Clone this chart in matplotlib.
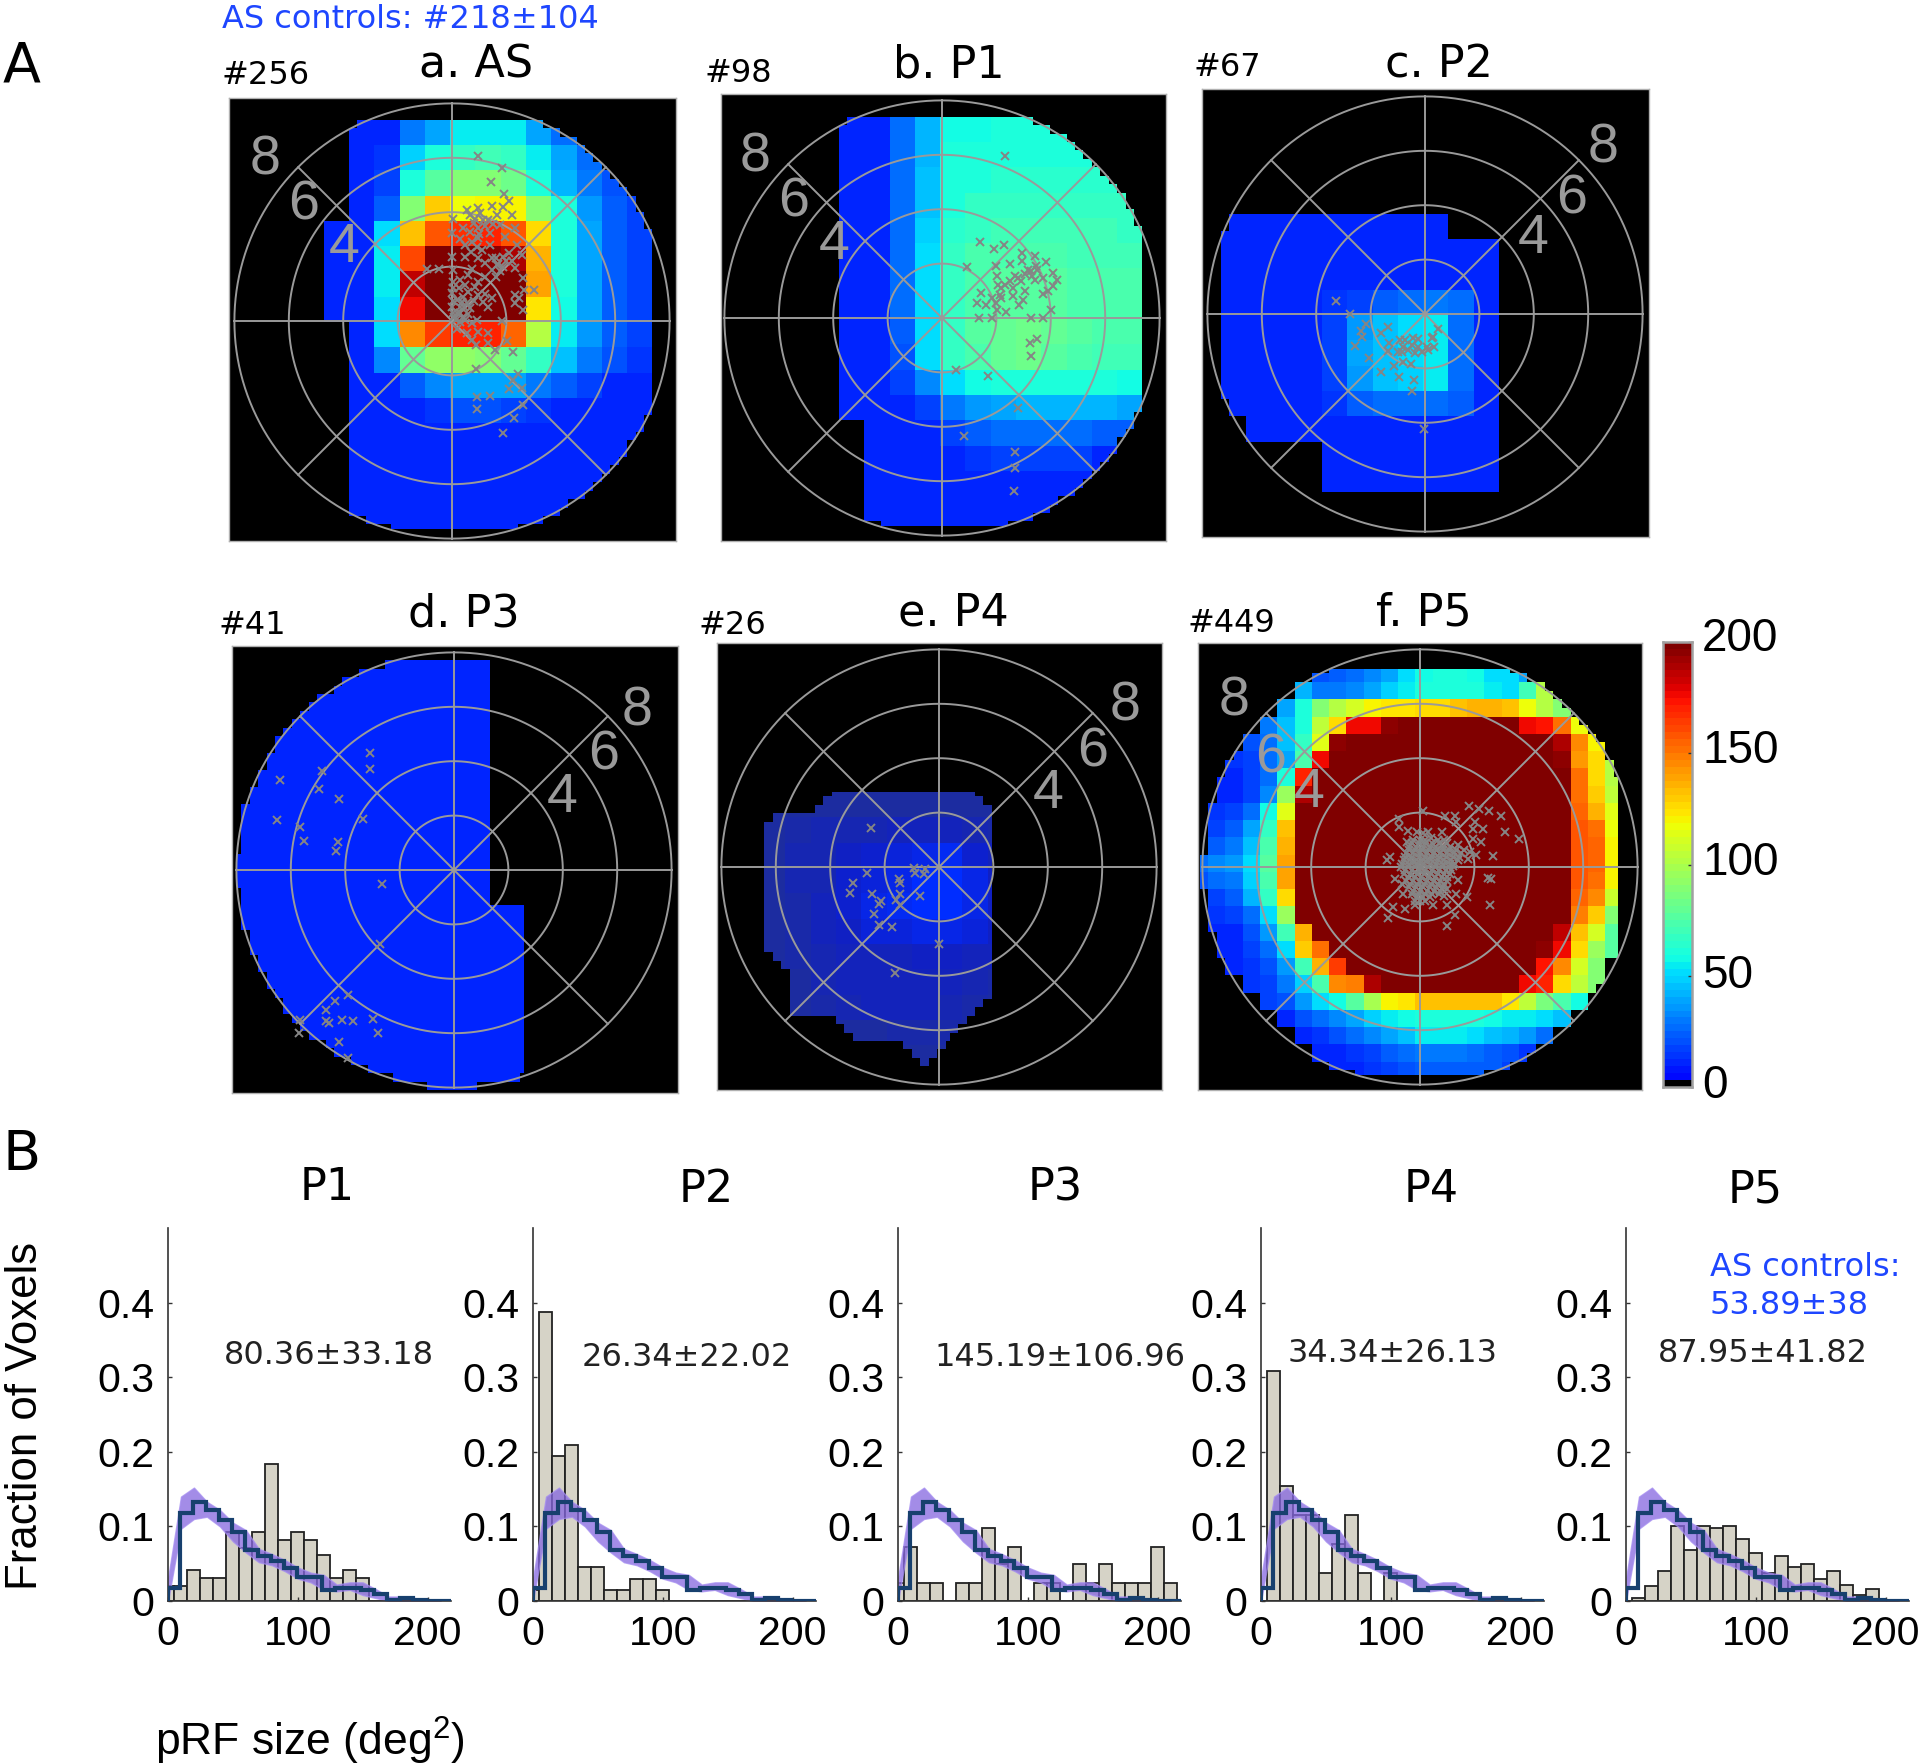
import numpy as np
import matplotlib
matplotlib.use('Agg')
import matplotlib.pyplot as plt
from matplotlib.colors import ListedColormap, LinearSegmentedColormap, Normalize

plt.rcParams['mathtext.default'] = 'regular'
plt.rcParams['font.family'] = ['DejaVu Sans']

W, H = 1920, 1764
HELV = 'Liberation Sans'
GRID_GREY = '#9a9a9a'
CROSS_GREY = '#858585'
BLUE_TXT = '#1e46ff'

# -- coverage maps, cell values read off the colour scale (0 = no coverage)
# rows run top to bottom, 0.93 deg cells

map_a = [
    [0] * 18,
    [0, 0, 0, 0, 0, 10, 10, 30, 40, 55, 55, 55, 40, 28, 20, 0, 0, 0],
    [0, 0, 0, 0, 0, 10, 14, 48, 62, 68, 70, 68, 55, 38, 28, 18, 0, 0],
    [0, 0, 0, 0, 0, 10, 18, 62, 78, 88, 90, 82, 62, 42, 30, 20, 14, 0],
    [0, 0, 0, 0, 0, 10, 22, 88, 130, 118, 120, 120, 90, 62, 36, 24, 16, 0],
    [0, 0, 0, 0, 10, 10, 50, 133, 158, 168, 170, 158, 125, 62, 38, 24, 16, 0],
    [0, 0, 0, 0, 10, 10, 55, 160, 200, 200, 195, 190, 135, 62, 38, 24, 16, 0],
    [0, 0, 0, 0, 10, 10, 55, 185, 200, 200, 200, 200, 140, 60, 38, 24, 16, 0],
    [0, 0, 0, 0, 10, 10, 52, 175, 200, 200, 200, 200, 122, 58, 38, 24, 16, 0],
    [0, 0, 0, 0, 0, 10, 50, 145, 165, 170, 170, 155, 100, 55, 36, 22, 16, 0],
    [0, 0, 0, 0, 0, 10, 34, 80, 92, 92, 88, 80, 66, 45, 30, 20, 14, 0],
    [0, 0, 0, 0, 0, 10, 10, 24, 32, 38, 40, 38, 30, 22, 16, 12, 10, 0],
    [0, 0, 0, 0, 0, 10, 10, 12, 15, 20, 20, 18, 15, 12, 10, 10, 10, 0],
    [0, 0, 0, 0, 0, 10, 10, 10, 11, 11, 11, 11, 11, 10, 10, 10, 10, 0],
    [0, 0, 0, 0, 0, 10, 10, 10, 10, 10, 11, 11, 10, 10, 10, 10, 10, 0],
    [0, 0, 0, 0, 0, 10, 10, 10, 10, 10, 10, 10, 10, 10, 10, 10, 10, 0],
    [0, 0, 0, 0, 0, 10, 10, 10, 10, 10, 10, 10, 10, 10, 10, 10, 10, 0],
    [0, 0, 0, 0, 0, 10, 10, 10, 10, 10, 10, 10, 10, 10, 10, 0, 0, 0],
]

map_b = [
    [0] * 18,
    [0, 0, 0, 0, 0, 10, 12, 25, 42, 58, 58, 60, 60, 62, 62, 0, 0, 0],
    [0, 0, 0, 0, 0, 10, 12, 25, 42, 60, 62, 62, 62, 62, 62, 62, 0, 0],
    [0, 0, 0, 0, 0, 10, 12, 25, 44, 62, 62, 64, 64, 64, 64, 64, 64, 0],
    [0, 0, 0, 0, 0, 10, 12, 25, 46, 62, 66, 68, 68, 68, 68, 66, 66, 0],
    [0, 0, 0, 0, 0, 10, 12, 25, 48, 64, 68, 70, 70, 70, 70, 70, 68, 0],
    [0, 0, 0, 0, 0, 10, 12, 26, 50, 66, 72, 74, 74, 72, 70, 70, 70, 0],
    [0, 0, 0, 0, 0, 10, 12, 26, 52, 68, 72, 75, 76, 76, 74, 72, 72, 0],
    [0, 0, 0, 0, 0, 10, 12, 26, 52, 68, 74, 76, 76, 76, 74, 72, 72, 0],
    [0, 0, 0, 0, 0, 10, 12, 24, 50, 68, 78, 80, 82, 80, 76, 72, 72, 0],
    [0, 0, 0, 0, 0, 10, 12, 20, 50, 66, 74, 80, 82, 78, 74, 70, 70, 0],
    [0, 0, 0, 0, 0, 10, 12, 16, 34, 50, 58, 62, 62, 62, 60, 60, 58, 0],
    [0, 0, 0, 0, 0, 10, 10, 12, 16, 30, 36, 40, 42, 42, 42, 42, 40, 0],
    [0, 0, 0, 0, 0, 0, 10, 10, 10, 16, 24, 25, 26, 26, 26, 24, 24, 0],
    [0, 0, 0, 0, 0, 0, 10, 10, 10, 10, 14, 16, 16, 16, 16, 12, 12, 0],
    [0, 0, 0, 0, 0, 0, 10, 10, 10, 10, 10, 12, 12, 12, 12, 12, 0, 0],
    [0, 0, 0, 0, 0, 0, 10, 10, 10, 10, 10, 12, 12, 12, 12, 0, 0, 0],
    [0, 0, 0, 0, 0, 0, 10, 10, 10, 10, 10, 12, 12, 12, 0, 0, 0, 0],
]

map_c = [
    [0] * 18,
    [0] * 18,
    [0] * 18,
    [0] * 18,
    [0] * 18,
    [0, 10, 10, 10, 10, 10, 10, 10, 10, 10, 0, 0, 0, 0, 0, 0, 0, 0],
    [0, 10, 10, 10, 10, 10, 10, 10, 10, 10, 10, 10, 0, 0, 0, 0, 0, 0],
    [0, 10, 10, 10, 10, 10, 10, 10, 10, 10, 10, 10, 0, 0, 0, 0, 0, 0],
    [0, 10, 10, 10, 10, 14, 18, 22, 28, 30, 26, 10, 0, 0, 0, 0, 0, 0],
    [0, 10, 10, 10, 10, 16, 36, 44, 50, 54, 28, 10, 0, 0, 0, 0, 0, 0],
    [0, 10, 10, 10, 10, 16, 38, 46, 50, 56, 28, 10, 0, 0, 0, 0, 0, 0],
    [0, 10, 10, 10, 10, 16, 36, 44, 48, 56, 28, 10, 0, 0, 0, 0, 0, 0],
    [0, 10, 10, 10, 10, 14, 22, 26, 28, 28, 24, 10, 0, 0, 0, 0, 0, 0],
    [0, 0, 10, 10, 10, 10, 10, 10, 10, 10, 10, 10, 0, 0, 0, 0, 0, 0],
    [0, 0, 0, 0, 0, 10, 10, 10, 10, 10, 10, 10, 0, 0, 0, 0, 0, 0],
    [0, 0, 0, 0, 0, 10, 10, 10, 10, 10, 10, 10, 0, 0, 0, 0, 0, 0],
    [0] * 18,
    [0] * 18,
]

map_d = [[10] * 18 for row in range(18)]

# panel e is much dimmer than the colour bar, scale is 1 (navy) to 10 (blue)
map_e = [
    [0] * 18,
    [0] * 18,
    [0] * 18,
    [0] * 18,
    [0] * 18,
    [0] * 18,
    [0, 0, 1, 1, 1, 1, 1, 1, 1, 1, 1, 1, 1, 0, 0, 0, 0, 0],
    [0, 0, 1, 2, 3, 3, 3, 4, 4, 4, 3, 2, 2, 0, 0, 0, 0, 0],
    [0, 0, 1, 3, 3, 5, 6, 7, 8, 9, 6, 4, 4, 0, 0, 0, 0, 0],
    [0, 0, 1, 3, 3, 6, 7, 8, 10, 10, 8, 5, 5, 0, 0, 0, 0, 0],
    [0, 0, 1, 2, 4, 6, 8, 9, 10, 10, 8, 5, 5, 0, 0, 0, 0, 0],
    [0, 0, 1, 2, 4, 5, 7, 7, 8, 8, 7, 5, 5, 0, 0, 0, 0, 0],
    [0, 0, 1, 2, 3, 4, 4, 4, 5, 5, 4, 4, 4, 0, 0, 0, 0, 0],
    [0, 0, 0, 1, 3, 4, 4, 4, 4, 4, 3, 2, 2, 0, 0, 0, 0, 0],
    [0, 0, 0, 1, 2, 3, 4, 4, 4, 3, 2, 1, 1, 0, 0, 0, 0, 0],
    [0, 0, 0, 0, 0, 1, 1, 2, 2, 2, 1, 1, 0, 0, 0, 0, 0, 0],
    [0, 0, 0, 0, 0, 0, 0, 1, 1, 1, 0, 0, 0, 0, 0, 0, 0, 0],
    [0] * 18,
]

# panel f, finer cells (0.634 deg)
map_f = [
    [0] * 26,
    [0, 0, 0, 0, 0, 0, 0, 20, 24, 28, 34, 40, 50, 58, 60, 60, 58, 52, 50, 40, 0, 0, 0, 0, 0, 0],
    [0, 0, 0, 0, 0, 0, 42, 30, 30, 34, 40, 48, 55, 60, 62, 62, 60, 56, 52, 70, 100, 0, 0, 0, 0, 0],
    [0, 0, 0, 0, 0, 40, 60, 90, 100, 112, 120, 122, 124, 126, 128, 134, 136, 136, 134, 118, 100, 90, 0, 0, 0, 0],
    [0, 0, 0, 0, 30, 44, 60, 105, 125, 175, 175, 195, 200, 200, 200, 200, 200, 200, 200, 178, 172, 150, 118, 0, 0, 0],
    [0, 0, 0, 20, 28, 44, 66, 115, 195, 200, 200, 200, 200, 200, 200, 200, 200, 200, 200, 200, 198, 190, 145, 120, 0, 0],
    [0, 0, 14, 18, 26, 40, 72, 178, 200, 200, 200, 200, 200, 200, 200, 200, 200, 200, 200, 200, 200, 195, 142, 125, 100, 0],
    [0, 12, 12, 16, 28, 62, 170, 200, 200, 200, 200, 200, 200, 200, 200, 200, 200, 200, 200, 200, 200, 200, 150, 125, 100, 0],
    [0, 12, 12, 18, 34, 95, 190, 200, 200, 200, 200, 200, 200, 200, 200, 200, 200, 200, 200, 200, 200, 200, 152, 130, 105, 0],
    [0, 14, 16, 28, 58, 115, 200, 200, 200, 200, 200, 200, 200, 200, 200, 200, 200, 200, 200, 200, 200, 200, 155, 135, 115, 0],
    [0, 16, 24, 38, 68, 132, 200, 200, 200, 200, 200, 200, 200, 200, 200, 200, 200, 200, 200, 200, 200, 200, 158, 150, 118, 0],
    [0, 22, 30, 44, 72, 135, 200, 200, 200, 200, 200, 200, 200, 200, 200, 200, 200, 200, 200, 200, 200, 200, 158, 155, 120, 0],
    [26, 32, 36, 52, 78, 140, 200, 200, 200, 200, 200, 200, 200, 200, 200, 200, 200, 200, 200, 200, 200, 200, 158, 155, 120, 0],
    [20, 26, 30, 48, 72, 138, 200, 200, 200, 200, 200, 200, 200, 200, 200, 200, 200, 200, 200, 200, 200, 200, 158, 152, 120, 0],
    [0, 16, 24, 42, 66, 128, 200, 200, 200, 200, 200, 200, 200, 200, 200, 200, 200, 200, 200, 200, 200, 200, 155, 145, 108, 0],
    [0, 14, 16, 28, 52, 95, 200, 200, 200, 200, 200, 200, 200, 200, 200, 200, 200, 200, 200, 200, 200, 200, 148, 130, 88, 0],
    [0, 12, 12, 20, 36, 70, 135, 200, 200, 200, 200, 200, 200, 200, 200, 200, 200, 200, 200, 200, 200, 185, 132, 110, 78, 0],
    [0, 10, 12, 16, 26, 52, 130, 150, 200, 200, 200, 200, 200, 200, 200, 200, 200, 200, 200, 200, 195, 175, 125, 95, 76, 0],
    [0, 0, 12, 14, 20, 36, 70, 135, 165, 200, 200, 200, 200, 200, 200, 200, 200, 200, 200, 200, 172, 145, 112, 88, 0, 0],
    [0, 0, 0, 14, 18, 30, 48, 72, 145, 148, 190, 200, 200, 200, 200, 200, 200, 200, 200, 178, 170, 125, 104, 90, 0, 0],
    [0, 0, 0, 0, 16, 20, 36, 50, 58, 78, 98, 120, 124, 133, 134, 134, 134, 134, 122, 105, 85, 72, 58, 0, 0, 0],
    [0, 0, 0, 0, 0, 12, 20, 26, 32, 40, 48, 55, 58, 60, 62, 62, 62, 58, 56, 54, 50, 44, 0, 0, 0, 0],
    [0, 0, 0, 0, 0, 0, 12, 14, 20, 26, 32, 38, 46, 54, 56, 56, 50, 46, 42, 36, 28, 0, 0, 0, 0, 0],
    [0, 0, 0, 0, 0, 0, 0, 10, 12, 14, 18, 22, 26, 30, 30, 30, 26, 24, 20, 14, 0, 0, 0, 0, 0, 0],
    [0, 0, 0, 0, 0, 0, 0, 0, 10, 12, 14, 18, 20, 22, 24, 24, 24, 22, 18, 0, 0, 0, 0, 0, 0, 0],
    [0] * 26,
]

# -- outlines of the panels that do not follow the cells: top, bottom, left, right (deg)

outline_a = [(7.4, -7.6, -9.0, 9.0)]
outline_b = [(7.38, -7.63, -9.0, 9.0)]
outline_f = [(7.34, -7.6, -9.0, 7.34)]

outline_d = [
    (7.67, -1.33, -7.9, 1.37),
    (-1.33, -8.5, -7.9, 2.58),
]

outline_e = [
    (2.85, 2.52, -4.02, 1.37),
    (2.52, 2.23, -4.31, 1.67),
    (2.23, 1.94, -4.61, 1.98),
    (1.94, 1.62, -6.11, 1.98),
    (1.62, -3.13, -6.42, 1.98),
    (-3.13, -3.44, -6.11, 1.98),
    (-3.44, -3.74, -5.82, 1.98),
    (-3.74, -4.91, -5.51, 1.98),
    (-4.91, -5.21, -5.51, 1.67),
    (-5.21, -5.52, -5.51, 1.37),
    (-5.52, -5.83, -3.73, 1.07),
    (-5.83, -6.13, -3.41, 0.76),
    (-6.13, -6.44, -3.12, 0.47),
    (-6.44, -6.72, -1.33, 0.17),
    (-6.72, -6.99, -1.03, -0.12),
    (-6.99, -7.3, -0.74, -0.44),
]

# -- pRF centres (deg)

centres_a = [
    (.97, 6.08), (1.83, 5.61), (1.43, 5.12), (1.91, 4.66), (2.11, 4.41), (1.89, 4.2), (.56, 4.08), (.97, 4.14),
    (1.46, 4.23), (2.19, 3.9), (1.64, 3.9), (1.34, 3.71), (1.03, 3.96), (.66, 3.9), (.02, 3.74), (2.32, 3.41),
    (1.76, 3.53), (.42, 3.41), (-.01, 3.22), (.66, 3.29), (.97, 3.41), (1.39, 3.22), (.97, 3.04), (.48, 2.79),
    (.91, 2.73), (1.39, 2.79), (2.38, 2.79), (1.95, 3.1), (-.01, 2.34), (.48, 2.34), (.97, 2.3), (1.46, 2.3),
    (1.89, 2.37), (2.56, 2.43), (1.64, 2.06), (1.89, 2.0), (1.46, 1.88), (2.33, 1.94), (2.62, 1.57), (-.93, 1.9),
    (-.47, 1.9), (.02, 1.88), (.02, 1.45), (.6, 1.69), (.97, 1.45), (.48, 1.32), (-.01, 1.02), (.42, .89),
    (.97, .95), (1.46, .83), (2.32, .96), (3.01, 1.14), (2.32, .65), (2.62, .4), (1.34, .53), (-.01, .53),
    (.29, .53), (.66, .47), (.42, .16), (.17, .28), (.91, .04), (1.83, .01), (.97, -.39), (1.34, -.45),
    (2.01, -.72), (1.34, -.8), (.88, -.88), (1.58, -1.07), (2.25, -1.13), (.88, -1.76), (2.44, -1.95), (2.25, -2.17),
    (2.56, -2.48), (2.11, -2.51), (.93, -2.78), (1.4, -2.75), (.93, -3.25), (2.6, -3.09), (2.28, -3.58), (1.89, -4.11),
    (.54, .65), (.36, .71), (.6, 1.08), (.17, .77), (.07, .16), (.48, .04), (.29, -.02), (.72, -.09),
    (1.2, 1.6), (1.1, 2.6), (.75, 2.9), (.8, 3.6), (1.15, 3.7), (.3, 3.0), (1.7, 2.1), (2.0, 2.2),
    (.05, 1.2), (.05, .75), (.05, .3), (.25, 1.2), (.3, .3), (.45, .5), (.15, .05), (.6, .25), (.8, .75), (.85, 1.25),
    (1.15, .7), (1.2, 1.0), (.3, 1.5), (.75, 1.9), (1.2, 2.15), (.7, 2.55), (1.0, 3.2), (1.2, 3.5), (1.5, 3.55), (.85, 3.75),
    (2.2, 2.2), (2.1, 2.5), (1.6, 2.3), (1.75, 1.85), (1.6, 1.6), (2.65, 1.15), (2.45, .85), (.2, -.3), (.55, -.45), (.75, -.7),
]

centres_b = [
    (2.33, 5.95), (1.4, 2.8), (1.91, 2.52), (2.28, 2.7), (.93, 1.87), (1.98, 1.9), (2.49, 1.99), (2.94, 2.39),
    (2.94, 2.09), (3.41, 2.27), (3.84, 2.06), (3.47, 1.9), (3.16, 1.78), (4.09, 1.66), (4.21, 1.41), (4.09, 1.19),
    (3.72, .88), (3.9, 1.0), (4.02, .28), (3.72, 0), (3.29, 0), (2.37, .22), (1.82, 0), (1.36, 0),
    (1.29, .55), (1.45, .92), (1.63, .49), (1.82, .74), (2.0, .55), (2.04, .31), (2.12, .86), (2.18, 1.1),
    (2.06, 1.23), (2.04, 1.53), (2.49, 1.35), (2.61, 1.1), (2.61, .8), (2.82, .49), (2.98, .67), (3.04, .98),
    (2.8, 1.47), (3.04, 1.6), (3.29, 1.72), (3.41, 1.41), (3.72, 1.47), (3.23, -.92), (3.51, -.76), (3.29, -1.41),
    (.53, -1.9), (1.69, -2.15), (2.8, -3.31), (.8, -4.32), (2.67, -4.91), (2.67, -5.52), (2.63, -6.36),
    (2.31, 1.23), (2.18, .74), (2.92, 1.35), (2.67, 1.53), (3.5, 1.75), (3.3, 1.55),
]

centres_c = [
    (-3.28, .48), (-2.76, 0), (-2.17, -.38), (-2.37, -.61), (-2.33, -.83), (-2.58, -1.17), (-2.06, -1.63),
    (-1.62, -.71), (-1.37, -.47), (-1.31, -1.08), (-1.37, -1.35), (-1.13, -1.9), (-1.6, -2.15), (-.94, -2.33),
    (-.39, -2.43), (-.47, -2.82), (-.52, -1.85), (-.8, -1.75), (-.02, -4.21), (.49, -.54), (.31, -.83), (.34, -1.2),
    (.12, -1.33), (-.12, -1.39), (-.37, -1.45), (-.61, -1.33), (-.86, -1.39), (-.92, -.96), (-.74, -.96),
    (-.43, -.9), (-.27, -.93), (-.49, -1.14), (-.25, -1.2), (.06, -1.2), (.25, -.9), (-.8, -1.2), (-.98, -1.39),
]

centres_d = [
    (-3.09, 4.29), (-3.09, 3.71), (-4.86, 3.64), (-6.4, 3.31), (-4.96, 2.99), (-4.21, 2.61), (-6.5, 1.82),
    (-5.67, 1.57), (-3.36, 1.88), (-5.52, 1.07), (-4.25, 1.04), (-4.34, .7), (-2.66, -.53), (-2.71, -2.72),
    (-3.91, -4.6), (-4.39, -4.81), (-4.72, -5.13), (-5.68, -5.52), (-5.71, -5.99), (-4.72, -5.56), (-4.58, -5.62),
    (-4.12, -5.52), (-3.73, -5.55), (-2.99, -5.48), (-2.8, -5.99), (-4.21, -6.34), (-3.91, -6.9),
]

centres_e = [
    (-2.49, 1.42), (-2.64, -.21), (-3.15, -.58), (-3.29, -.96), (-2.48, -1.01), (-2.13, -1.25), (-2.22, -1.35),
    (-2.4, -1.72), (-2.22, -2.15), (-1.74, -2.21), (-1.48, -.44), (-1.42, -.59), (-1.42, -1.01), (-1.57, -1.2),
    (-1.45, -1.39), (-.71, -1.06), (-.93, -.05), (-.9, -.22), (-.56, -.25), (-.5, -.06), (-.01, -2.82), (-1.6, -3.89),
]

centres_f = [
    (1.79, 2.26), (2.16, 2.13), (2.52, 2.07), (2.99, 1.89), (3.13, 1.28), (3.63, 1.04), (2.68, .39), (2.5, -.4),
    (2.62, -.43), (2.59, -1.4), (.98, -2.16), (1.3, -1.77), (-1.18, -1.89), (-.98, -1.46), (-.55, -1.56), (.12, 2.05),
    (-.79, 1.77), (-.79, 1.46), (-.43, 1.34), (-.49, .91), (-1.1, .37), (-1.2, .25), (.91, 1.89), (1.28, 1.89),
    (1.34, 1.65), (2.01, 1.65), (1.95, 1.4), (2.33, 1.4), (2.26, .91), (1.95, 1.04), (2.07, .43), (1.71, -1.1),
    (1.41, -.49), (1.34, -.98), (.98, -1.4), (.49, -1.4), (-.18, -1.4), (-.91, -.43), (-.67, -.61), (-.61, -.98),
    # dense middle of the cloud
    (-.1, 1.3), (.1, 1.25), (.3, 1.3), (.8, 1.3), (-.25, 1.0), (0, 1.0), (.2, 1.0), (.4, 1.05), (.65, 1.0), (.9, 1.0),
    (-.4, .75), (-.15, .75), (.1, .75), (.35, .75), (.6, .75), (.85, .75), (1.1, .75), (1.4, .8),
    (-.5, .5), (-.25, .5), (0, .5), (.25, .5), (.5, .5), (.75, .5), (1.0, .5), (1.25, .5), (1.5, .5), (1.85, .55),
    (-.6, .25), (-.35, .25), (-.1, .25), (.15, .25), (.4, .25), (.65, .25), (.9, .25), (1.15, .25), (1.4, .25), (1.75, .3),
    (-.7, 0), (-.45, 0), (-.2, 0), (.05, 0), (.3, 0), (.55, 0), (.8, 0), (1.05, 0), (1.2, .05),
    (-.6, -.25), (-.35, -.25), (-.1, -.25), (.15, -.25), (.4, -.25), (.65, -.25), (.9, -.25), (1.1, -.25),
    (-.5, -.5), (-.25, -.5), (0, -.5), (.25, -.5), (.5, -.5), (.75, -.5), (1.0, -.5),
    (-.4, -.75), (-.15, -.75), (.1, -.75), (.35, -.75), (.6, -.75), (.85, -.75), (1.0, -.8),
    (-.3, -1.0), (-.05, -1.0), (.2, -1.0), (.45, -1.0), (.7, -1.0), (.9, -1.05),
    (-.2, -1.25), (0, -1.25), (.2, -1.25),
    (-.3, .88), (-.05, .88), (.2, .88), (.45, .88), (.7, .88), (1.0, .88),
    (-.42, .62), (-.17, .62), (.08, .62), (.33, .62), (.58, .62), (.83, .62), (1.08, .62), (1.33, .62), (1.6, .62),
    (-.55, .38), (-.3, .38), (-.05, .38), (.2, .38), (.45, .38), (.7, .38), (.95, .38), (1.2, .38), (1.45, .38),
    (-.65, .12), (-.4, .12), (-.15, .12), (.1, .12), (.35, .12), (.6, .12), (.85, .12), (1.1, .12), (1.3, .12),
    (-.55, -.12), (-.3, -.12), (-.05, -.12), (.2, -.12), (.45, -.12), (.7, -.12), (.95, -.12), (1.15, -.12),
    (-.45, -.38), (-.2, -.38), (.05, -.38), (.3, -.38), (.55, -.38), (.8, -.38), (1.0, -.38),
    (-.35, -.62), (-.1, -.62), (.15, -.62), (.4, -.62), (.65, -.62), (.9, -.62),
    (-.25, -.88), (0, -.88), (.25, -.88), (.5, -.88), (.75, -.88),
    (-.1, -1.12), (.1, -1.12), (.35, -1.12),
]

ecc_labels = ['8', '6', '4']

# -- histograms, bins centred on multiples of 10

bin_centres = [0, 10, 20, 30, 40, 50, 60, 70, 80, 90, 100, 110, 120, 130, 140, 150, 160, 170, 180, 190, 200, 210]

hist_p1 = [.02, .02, .041, .031, .031, .092, .071, .092, .184, .082, .092, .082, .061, .031, .041, .031, 0, 0, 0, 0, 0, 0]
hist_p2 = [.015, .388, .194, .209, .045, .045, .015, .015, .03, .03, .015, 0, 0, 0, 0, 0, 0, 0, 0, 0, 0, 0]
hist_p3 = [.024, .073, .024, .024, 0, .024, .024, .098, .049, .073, 0, .024, .024, 0, .049, .024, .049, .024, .024, .024, .073, .024]
hist_p4 = [0, .308, .154, .115, .115, .038, .077, .115, .038, 0, .038, 0, 0, 0, 0, 0, 0, 0, 0, 0, 0, 0]
hist_p5 = [0, .004, .02, .04, .1, .068, .1, .098, .1, .083, .065, .038, .06, .045, .05, .03, .04, .022, .008, .016, 0, 0]

control_mean = [.018, .118, .133, .122, .108, .093, .068, .06, .053, .044, .032, .032, .015, .018, .018, .015, .01, .002, .004, .001, 0, 0]
control_upper = [.03, .14, .152, .133, .122, .105, .095, .07, .063, .055, .045, .038, .035, .022, .025, .025, .016, .006, .006, .004, .002, 0]
control_lower = [0, .097, .11, .113, .1, .08, .065, .052, .048, .04, .03, .025, .015, .013, .015, .008, .004, 0, 0, 0, 0, 0]

hist_names = ['P1', 'P2', 'P3', 'P4', 'P5']
hist_values = [hist_p1, hist_p2, hist_p3, hist_p4, hist_p5]
hist_stats = ['80.36±33.18', '26.34±22.02', '145.19±106.96', '34.34±26.13', '87.95±41.82']

scale_ticks = [0, 50, 100, 150, 200]
scale_label_y = [1086, 976, 863, 751, 639]


def fx(x):
    return x / W


def fy(y):
    return 1 - y / H


def add_axes_px(fig, left, right, top, bottom):
    return fig.add_axes([fx(left), fy(bottom), (right - left) / W, (bottom - top) / H])


def put_text(fig, x, y, s, **kw):
    kw.setdefault('ha', 'center')
    kw.setdefault('va', 'center')
    fig.text(fx(x), fy(y), s, **kw)


def draw_map(ax, vals, x0, y0, step, sub, cmap, norm, outline=None):
    # sub splits the cells so the r=8 mask gets its small stairs
    grid = np.kron(np.array(vals, dtype=float), np.ones((sub, sub)))
    fine = step / sub
    ny, nx = grid.shape
    xc = x0 + fine * (np.arange(nx) + .5)
    yc = y0 - fine * (np.arange(ny) + .5)
    xx, yy = np.meshgrid(xc, yc)
    grid[np.hypot(xx, yy) > 8] = np.nan
    grid[grid == 0] = np.nan

    if outline is not None:
        grid = np.kron(grid, np.ones((2, 2)))
        fine = fine / 2
        ny, nx = grid.shape
        xc = x0 + fine * (np.arange(nx) + .5)
        yc = y0 - fine * (np.arange(ny) + .5)
        xx, yy = np.meshgrid(xc, yc)
        keep = np.zeros(grid.shape, dtype=bool)
        for top, bot, left, right in outline:
            keep |= (yy <= top) & (yy > bot) & (xx >= left) & (xx <= right)
        grid[~keep] = np.nan

    x_edges = x0 + fine * np.arange(nx + 1)
    y_edges = y0 - fine * np.arange(ny + 1)
    ax.pcolormesh(x_edges, y_edges, grid, cmap=cmap, norm=norm, antialiased=False, linewidth=0)


def draw_polar_grid(ax):
    t = np.radians(np.arange(0, 361, 2))
    for r in [2, 4, 6, 8]:
        ax.plot(r * np.cos(t), r * np.sin(t), color=GRID_GREY, lw=1.4, zorder=3)
    for ang in [0, 45, 90, 135]:
        a = np.radians(ang)
        ax.plot([-8 * np.cos(a), 8 * np.cos(a)], [-8 * np.sin(a), 8 * np.sin(a)], color=GRID_GREY, lw=1.4, zorder=3)


def draw_map_panel(fig, box, centre, vals, pts, title, title_xy, count, count_xy, label_xy,
                   cell=(-8.44, 8.33, .93, 3), cmap=None, norm=None, outline=None):
    left, right, top, bottom = box
    cx, cy = centre
    ax = add_axes_px(fig, left, right, top, bottom)
    ax.set_facecolor('black')
    draw_map(ax, vals, cell[0], cell[1], cell[2], cell[3], cmap, norm, outline)
    draw_polar_grid(ax)
    px = np.array(pts)
    ax.plot(px[:, 0], px[:, 1], 'x', color=CROSS_GREY, ms=6.3, mew=1.4, zorder=4)
    for lab, (lx, ly) in zip(ecc_labels, label_xy):
        ax.text(lx, ly - .1, lab, color=GRID_GREY, fontsize=40, family=HELV, ha='center', va='center', zorder=5)
    ax.set_xlim((left - cx) / PX_DEG, (right - cx) / PX_DEG)
    ax.set_ylim((cy - bottom) / PX_DEG, (cy - top) / PX_DEG)
    ax.set_xticks([])
    ax.set_yticks([])
    for s in ax.spines.values():
        s.set_color('#b0b0b0')
        s.set_linewidth(1)
    put_text(fig, title_xy[0], title_xy[1] + 4, title, fontsize=32)
    put_text(fig, count_xy[0], count_xy[1] + 2, count, fontsize=23)


def draw_hist(fig, left, name, name_xy, vals, stat, stat_xy):
    ax = add_axes_px(fig, left, left + 283, 1228, 1601)
    ax.bar(bin_centres, vals, width=10, facecolor='#d6d3c7', edgecolor='#222222', linewidth=1.3, zorder=1)
    ax.fill_between(bin_centres, control_lower, control_upper, facecolor='#8566e0', edgecolor='#a48cf0',
                    alpha=.75, linewidth=1, zorder=2)
    edges = [0] + [9 + 10 * i for i in range(21)] + [218]
    ax.stairs(control_mean, edges, color='#17406e', linewidth=3, zorder=3)
    ax.set_xlim(0, 218)
    ax.set_ylim(0, .5)
    ax.set_xticks([0, 100, 200])
    ax.set_xticklabels(['0', '100', '200'])
    ax.set_yticks([0, .1, .2, .3, .4])
    ax.set_yticklabels(['0', '0.1', '0.2', '0.3', '0.4'])
    ax.tick_params(axis='both', direction='in', length=3, width=1, labelsize=29.5, pad=10, color='#333333')
    for lab in ax.get_xticklabels() + ax.get_yticklabels():
        lab.set_family(HELV)
    ax.spines['top'].set_visible(False)
    ax.spines['right'].set_visible(False)
    ax.spines['left'].set_color('#333333')
    ax.spines['bottom'].set_color('#333333')
    ax.spines['left'].set_linewidth(1.2)
    ax.spines['bottom'].set_linewidth(1.2)
    ax.patch.set_alpha(0)
    put_text(fig, name_xy[0], name_xy[1] + 5, name, fontsize=32)
    put_text(fig, stat_xy[0], stat_xy[1] + 2, stat, fontsize=23, color='#222222')


PX_DEG = 27.2

# -- colour scales: jet without its darkest blues, lowest level black

levels = plt.get_cmap('jet')(np.linspace(.12, 1, 64))
levels[0] = [0, 0, 0, 1]
jet_black = ListedColormap(levels)
jet_norm = Normalize(0, 200)
dim_blue = LinearSegmentedColormap.from_list('dim_blue', ['#1c2ca0', '#0f1ec8', '#002dff'])
dim_norm = Normalize(1, 10)

fig = plt.figure(figsize=(W / 100, H / 100), dpi=100, facecolor='white')

labels_left = [(-6.87, 5.99), (-5.46, 4.36), (-3.98, 2.8)]

draw_map_panel(fig, (229, 676, 98, 541), (452, 321), map_a, centres_a, 'a. AS', (476, 61), '#256', (266, 73),
               labels_left, cmap=jet_black, norm=jet_norm, outline=outline_a)
draw_map_panel(fig, (721, 1166, 94, 541), (942, 318), map_b, centres_b, 'b. P1', (949, 61), '#98', (738, 72),
               labels_left, cmap=jet_black, norm=jet_norm, outline=outline_b)
draw_map_panel(fig, (1202, 1649, 89, 537), (1425, 314), map_c, centres_c, 'c. P2', (1439, 61), '#67', (1227, 65),
               [(6.56, 6.2), (5.4, 4.32), (3.99, 2.85)], cmap=jet_black, norm=jet_norm)
draw_map_panel(fig, (232, 678, 646, 1093), (454, 870), map_d, centres_d, 'd. P3', (464, 610), '#41', (252, 624),
               [(6.74, 5.93), (5.51, 4.32), (3.98, 2.76)], cmap=jet_black, norm=jet_norm, outline=outline_d)
draw_map_panel(fig, (717, 1162, 643, 1090), (939, 867), map_e, centres_e, 'e. P4', (953, 609), '#26', (732, 624),
               [(6.83, 6.01), (5.63, 4.32), (4.0, 2.79)], cmap=dim_blue, norm=dim_norm, outline=outline_e)
draw_map_panel(fig, (1198, 1642, 643, 1090), (1420, 867), map_f, centres_f, 'f. P5', (1424, 609), '#449', (1231, 622),
               [(-6.82, 6.17), (-5.51, 4.09), (-4.07, 2.83)], cell=(-8.42, 8.07, .6344, 2), cmap=jet_black,
               norm=jet_norm, outline=outline_f)

# -- colour bar

cax = add_axes_px(fig, 1663, 1692, 642, 1087)
cax.imshow(np.linspace(200, 0, 64)[:, None], cmap=jet_black, norm=jet_norm, aspect='auto', extent=(0, 1, 0, 200),
           interpolation='nearest')
cax.set_xticks([])
cax.yaxis.tick_right()
cax.set_yticks(scale_ticks)
cax.set_yticklabels([])
cax.tick_params(axis='y', direction='in', length=3, width=1, color='#333333')
for s in cax.spines.values():
    s.set_color('#a0a0a0')
    s.set_linewidth(1.8)
for tick, label_y in zip(scale_ticks, scale_label_y):
    put_text(fig, 1702, label_y, str(tick), fontsize=33, family=HELV, ha='left')

# -- histograms

draw_hist(fig, 168, hist_names[0], (327, 1183), hist_values[0], hist_stats[0], (329, 1353))
draw_hist(fig, 533, hist_names[1], (706, 1185), hist_values[1], hist_stats[1], (687, 1355))
draw_hist(fig, 898, hist_names[2], (1055, 1183), hist_values[2], hist_stats[2], (1060, 1355))
draw_hist(fig, 1261, hist_names[3], (1431, 1185), hist_values[3], hist_stats[3], (1393, 1352))
draw_hist(fig, 1626, hist_names[4], (1755, 1185), hist_values[4], hist_stats[4], (1763, 1352))

# -- free text

put_text(fig, 22, 66, 'A', fontsize=40)
put_text(fig, 22, 1155, 'B', fontsize=40)
put_text(fig, 410, 19, 'AS controls: #218±104', fontsize=23, color=BLUE_TXT)
put_text(fig, 1710, 1267, 'AS controls:', fontsize=23, color=BLUE_TXT, ha='left')
put_text(fig, 1710, 1305, '53.89±38', fontsize=23, color=BLUE_TXT, ha='left')
put_text(fig, 26, 1416, 'Fraction of Voxels', fontsize=31.5, family=HELV, rotation=90)
put_text(fig, 310, 1741, 'pRF size (deg$^2$)', fontsize=32, family=HELV)

fig.savefig('out.png', dpi=100)
